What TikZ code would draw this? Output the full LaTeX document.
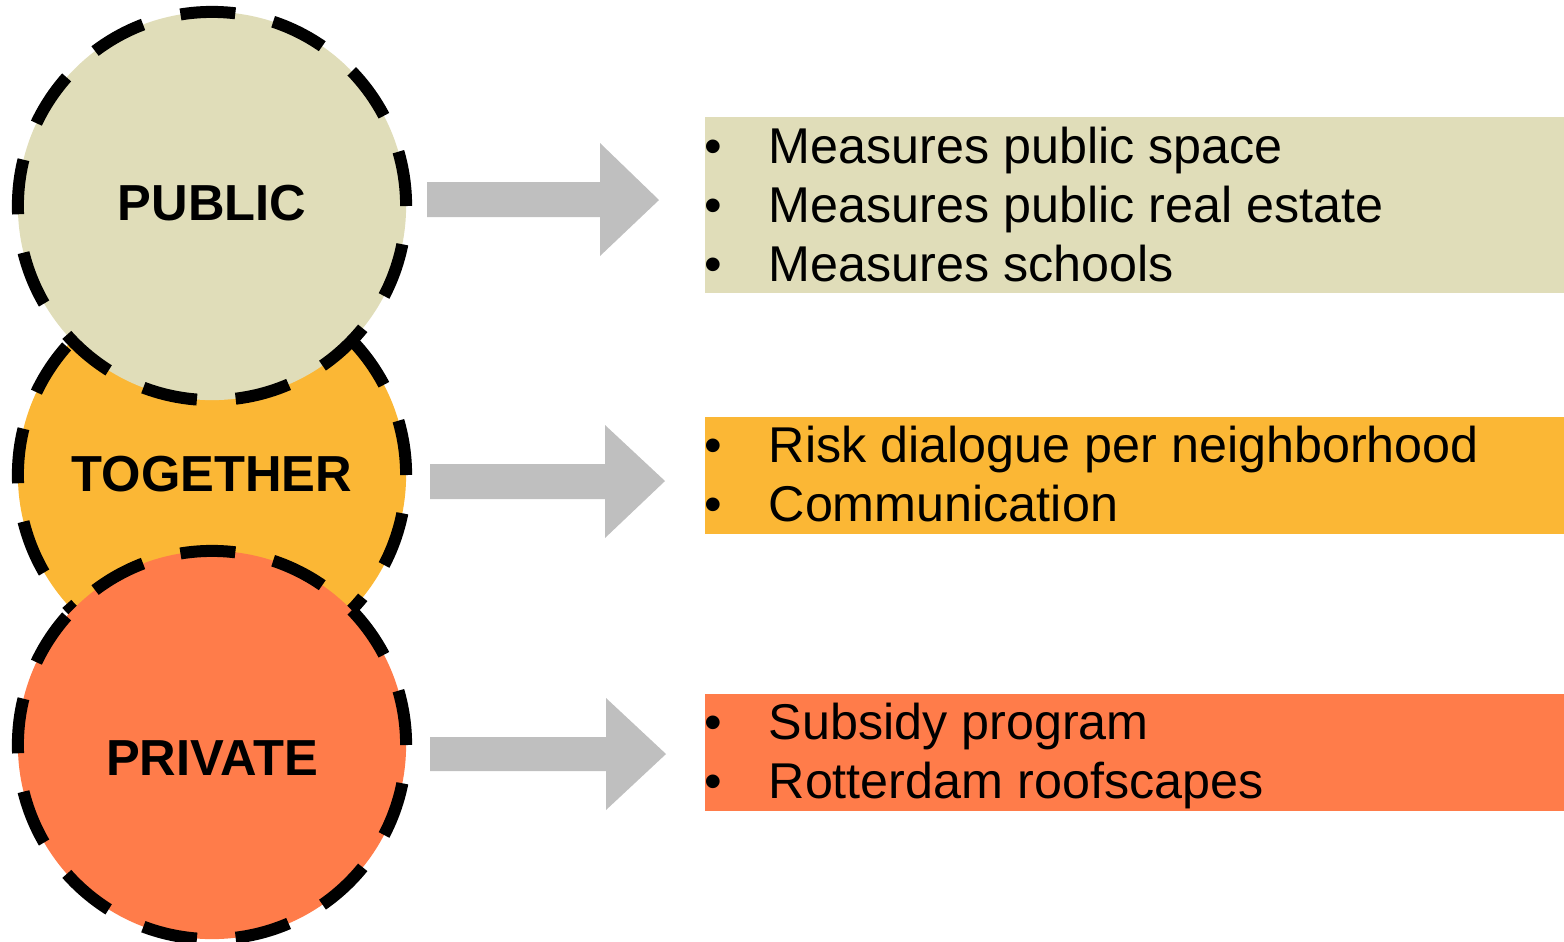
\documentclass[tikz,border=0pt]{standalone}
\usepackage{fontspec}
\setmainfont{Liberation Sans}
\definecolor{pubfill}{RGB}{224,221,185}
\definecolor{togfill}{RGB}{251,183,53}
\definecolor{privfill}{RGB}{255,124,74}
\definecolor{arrowgray}{RGB}{191,191,191}
\begin{document}
\begin{tikzpicture}[x=0.01cm,y=-0.01cm,
  circ/.style={circle, draw=black, inner sep=0pt, minimum size=3.88cm, line width=0.12cm, dash pattern=on 0.55cm off 0.388cm},
  lbl/.style={inner sep=0pt, font=\fontsize{14.4pt}{17pt}\selectfont\bfseries},
  itemtext/.style={anchor=base west, inner sep=0pt, font=\fontsize{14.3pt}{17pt}\selectfont},
  bul/.style={anchor=base, inner sep=0pt, font=\fontsize{14.3pt}{17pt}\selectfont},
  blockarrow/.style={fill=arrowgray, draw=none},
  box/.style={rectangle, inner sep=0pt, anchor=north west, minimum width=8.6cm}
]
\useasboundingbox (0,0) rectangle (1564,941);

% boxes
\node[box, fill=pubfill, minimum height=1.76cm] (pubbox) at (704,116) {};
\node[box, fill=togfill, minimum height=1.17cm] (togbox) at (704,416) {};
\node[box, fill=privfill, minimum height=1.17cm] (privbox) at (704,693) {};

% circles
\node[circ, fill=togfill] (tog) at (212,475) {};
\node[circ, fill=pubfill] (pub) at (212,206) {};
\node[circ, fill=privfill] (priv) at (212,745) {};

% labels
\node[lbl] (publbl) at (212,203) {PUBLIC};
\node[lbl] (toglbl) at (212,474) {TOGETHER};
\node[lbl] (privlbl) at (212,758) {PRIVATE};

% block arrows
\fill[blockarrow] (427,182)--(600,182)--(600,143)--(659,200)--(600,256)--(600,217)--(427,217)--cycle;
\fill[blockarrow] (430,464)--(605,464)--(605,425)--(665,481)--(605,538)--(605,499)--(430,499)--cycle;
\fill[blockarrow] (430,737)--(606,737)--(606,698)--(666,754)--(606,810)--(606,771)--(430,771)--cycle;

% public items
\node[bul] (b1) at (713,163) {•};
\node[itemtext] (t1) at (768,163) {Measures public space};
\node[bul] (b2) at (713,222) {•};
\node[itemtext] (t2) at (768,222) {Measures public real estate};
\node[bul] (b3) at (713,281) {•};
\node[itemtext] (t3) at (768,281) {Measures schools};

% together items
\node[bul] (b4) at (713,462) {•};
\node[itemtext] (t4) at (768,462) {Risk dialogue per neighborhood};
\node[bul] (b5) at (713,521) {•};
\node[itemtext] (t5) at (768,521) {Communication};

% private items
\node[bul] (b6) at (713,739) {•};
\node[itemtext] (t6) at (768,739) {Subsidy program};
\node[bul] (b7) at (713,798) {•};
\node[itemtext] (t7) at (768,798) {Rotterdam roofscapes};
\end{tikzpicture}
\end{document}
